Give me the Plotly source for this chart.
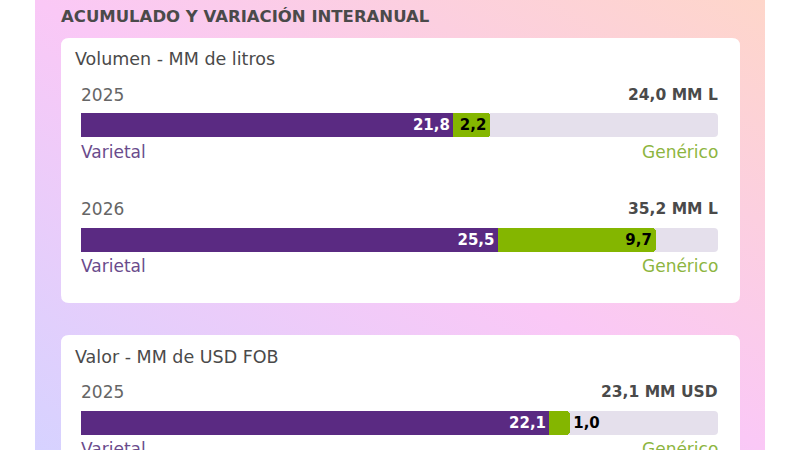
import plotly.graph_objects as go

# datos del panel
secciones = ["Volumen - MM de litros", "Valor - MM de USD FOB"]
anios = ["2025", "2026", "2025"]
varietal = [21.8, 25.5, 22.1]
generico = [2.2, 9.7, 1.0]
unidades = ["MM L", "MM L", "MM USD"]
categorias = ["Varietal", "Genérico"]

W, H = 800, 450
FONT = "DejaVu Sans, sans-serif"
PURPLE = "#5a2a82"
GREEN = "#84b600"
TRACK = "#e5e0ec"


def fmt(v):
    return f"{v:.1f}".replace(".", ",")


def rrect(x0, y0, x1, y1, r):
    return (f"M {x0+r},{y0} H {x1-r} Q {x1},{y0} {x1},{y0+r} V {y1-r} "
            f"Q {x1},{y1} {x1-r},{y1} H {x0+r} Q {x0},{y1} {x0},{y1-r} "
            f"V {y0+r} Q {x0},{y0} {x0+r},{y0} Z")


# pixel layout of each bar row: (label y, bar top, bar bottom, legend y, scale max)
filas = [(95, 113, 137, 152, 37.34), (209, 228, 252, 266, 39.0), (392, 411, 435, 449, 30.08)]
X0, X1 = 81, 718

fig = go.Figure()
# background axis in pixel coords
fig.add_trace(go.Scatter(x=[0, W], y=[0, H], mode="markers", marker=dict(opacity=0),
                         hoverinfo="skip", showlegend=False, xaxis="x", yaxis="y"))

shapes = [
    dict(type="path", xref="x", yref="y", path=rrect(61, 38, 740, 303, 8),
         fillcolor="white", line=dict(width=0), layer="below"),
    dict(type="path", xref="x", yref="y", path=rrect(61, 335, 740, 470, 8),
         fillcolor="white", line=dict(width=0), layer="below"),
]
annotations = [
    dict(x=60, y=16, text="<b>ACUMULADO Y VARIACIÓN INTERANUAL</b>", xanchor="left",
         font=dict(size=16.5, color="#4a4a4a")),
    dict(x=74, y=59, text=secciones[0], xanchor="left", font=dict(size=17.5, color="#4a4a4a")),
    dict(x=74, y=357, text=secciones[1], xanchor="left", font=dict(size=17.5, color="#4a4a4a")),
]

layout_axes = {}
for i, (ly, by0, by1, gy, vmax) in enumerate(filas):
    n = i + 2
    shapes.append(dict(type="path", xref="x", yref="y", path=rrect(X0, by0, X1, by1, 4),
                       fillcolor=TRACK, line=dict(width=0), layer="below"))
    total = varietal[i] + generico[i]
    annotations += [
        dict(x=X0 - 1, y=ly, text=anios[i], xanchor="left", font=dict(size=17, color="#666666")),
        dict(x=X1 + 1, y=ly, text=f"<b>{fmt(total)} {unidades[i]}</b>", xanchor="right",
             font=dict(size=15.5, color="#4a4a4a")),
        dict(x=X0 - 1, y=gy, text=categorias[0], xanchor="left", font=dict(size=17, color="#6a4b8c")),
        dict(x=X1 + 1, y=gy, text=categorias[1], xanchor="right", font=dict(size=17, color="#8db540")),
    ]
    fig.add_trace(go.Bar(
        x=[varietal[i]], y=[0], orientation="h", width=1, marker=dict(color=PURPLE, line=dict(width=0)),
        text=[fmt(varietal[i])], textposition="inside", insidetextanchor="end", textangle=0,
        constraintext="none",
        insidetextfont=dict(color="white", size=15, family=FONT, weight="bold"),
        hoverinfo="skip", showlegend=False, xaxis=f"x{n}", yaxis=f"y{n}"))
    fig.add_trace(go.Bar(
        x=[generico[i]], y=[0], orientation="h", width=1,
        marker=dict(color=GREEN, line=dict(width=0), cornerradius=4),
        text=[fmt(generico[i])], textposition="outside" if generico[i] < 1.5 else "inside",
        insidetextanchor="end", textangle=0, constraintext="none",
        insidetextfont=dict(color="black", size=15, family=FONT, weight="bold"),
        outsidetextfont=dict(color="black", size=15, family=FONT, weight="bold"),
        cliponaxis=False, hoverinfo="skip", showlegend=False, xaxis=f"x{n}", yaxis=f"y{n}"))
    layout_axes[f"xaxis{n}"] = dict(domain=[X0 / W, X1 / W], range=[0, vmax], visible=False,
                                    fixedrange=True, anchor=f"y{n}")
    layout_axes[f"yaxis{n}"] = dict(domain=[1 - by1 / H, 1 - by0 / H], range=[-0.5, 0.5],
                                    visible=False, fixedrange=True, anchor=f"x{n}")

for a in annotations:
    a.update(xref="x", yref="y", yanchor="middle", showarrow=False, borderpad=0)
    a["font"]["family"] = FONT

gradient = (
    "data:image/svg+xml;utf8,"
    "<svg xmlns='http://www.w3.org/2000/svg' width='730' height='450' viewBox='0 0 730 450' "
    "preserveAspectRatio='none'><defs><linearGradient id='g' x1='0' y1='1' x2='1' y2='0'>"
    "<stop offset='0' stop-color='%23d6d2ff'/><stop offset='0.5' stop-color='%23fac8f6'/>"
    "<stop offset='1' stop-color='%23fed6ca'/></linearGradient></defs>"
    "<rect width='730' height='450' fill='url(%23g)'/></svg>"
)

fig.update_layout(
    width=W, height=H, margin=dict(l=0, r=0, t=0, b=0),
    paper_bgcolor="white", plot_bgcolor="rgba(0,0,0,0)",
    barmode="stack", showlegend=False,
    font=dict(family=FONT),
    xaxis=dict(domain=[0, 1], range=[0, W], visible=False, fixedrange=True),
    yaxis=dict(domain=[0, 1], range=[H, 0], visible=False, fixedrange=True),
    shapes=shapes, annotations=annotations,
    images=[dict(source=gradient, xref="paper", yref="paper", x=35 / W, y=1,
                 sizex=730 / W, sizey=1, sizing="stretch", xanchor="left", yanchor="top",
                 layer="below")],
    **layout_axes,
)

fig.write_html("out.html", config=dict(displayModeBar=False),
               post_script="document.body.style.margin='0';")
